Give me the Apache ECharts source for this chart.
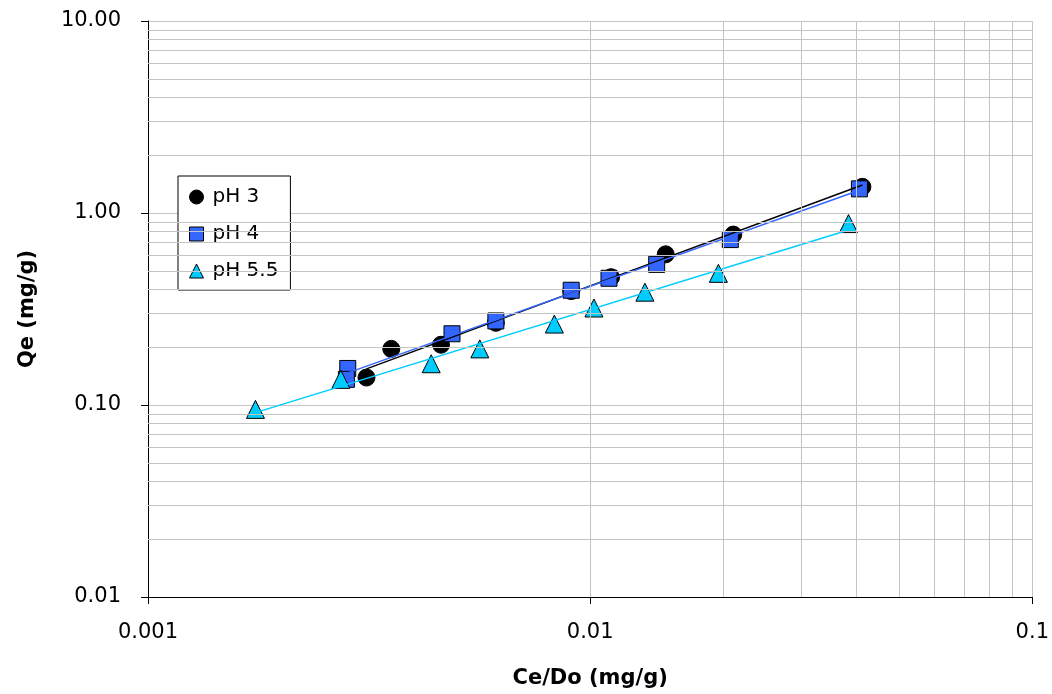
<!DOCTYPE html>
<html><head><meta charset="utf-8">
<script src="https://cdn.jsdelivr.net/npm/echarts@6/dist/echarts.min.js"></script>
<style>html,body{margin:0;padding:0;background:#fff}#c{width:1052px;height:694px}</style>
</head><body><div id="c"></div>
<script>
// Data (Ce/Do, Qe)
const seriesNames = ['pH 3', 'pH 4', 'pH 5.5'];
const ph3X = [0.00312, 0.00355, 0.00460, 0.00612, 0.00906, 0.01115, 0.01482, 0.02107, 0.04128];
const ph3Y = [0.139, 0.196, 0.206, 0.268, 0.392, 0.463, 0.609, 0.772, 1.368];
const ph4X = [0.00283, 0.00281, 0.00487, 0.00612, 0.00906, 0.01103, 0.01414, 0.02075, 0.04064];
const ph4Y = [0.155, 0.136, 0.235, 0.274, 0.396, 0.457, 0.540, 0.727, 1.336];
const ph55X = [0.00175, 0.00273, 0.00437, 0.00563, 0.00830, 0.01020, 0.01330, 0.01950, 0.03840];
const ph55Y = [0.0949, 0.136, 0.164, 0.196, 0.264, 0.320, 0.387, 0.485, 0.881];
const xTickLabels = ['0.001', '0.01', '0.1'];
const yTickLabels = ['0.01', '0.10', '1.00', '10.00'];

function pairs(xs, ys) { return xs.map((x, i) => [x, ys[i]]); }
// power-law trendline (least squares in log-log space), drawn between min and max x
function powerFit(xs, ys) {
  const lx = xs.map(Math.log10), ly = ys.map(Math.log10);
  const n = lx.length;
  const mx = lx.reduce((a, b) => a + b, 0) / n, my = ly.reduce((a, b) => a + b, 0) / n;
  let sxy = 0, sxx = 0;
  for (let i = 0; i < n; i++) { sxy += (lx[i] - mx) * (ly[i] - my); sxx += (lx[i] - mx) ** 2; }
  const b = sxy / sxx, a = my - b * mx;
  const x0 = Math.min(...xs), x1 = Math.max(...xs);
  return [[x0, Math.pow(10, a + b * Math.log10(x0))], [x1, Math.pow(10, a + b * Math.log10(x1))]];
}

// minor grid positions (2..9 within each decade)
const minorX = [], minorY = [];
[0.001, 0.01].forEach(d => { for (let k = 2; k <= 9; k++) minorX.push(+(d * k).toPrecision(3)); });
[0.01, 0.1, 1].forEach(d => { for (let k = 2; k <= 9; k++) minorY.push(+(d * k).toPrecision(3)); });

const FONT = 'DejaVu Sans, Liberation Sans, Arial, sans-serif';
const gridColor = '#c4c4c4';
const colors = ['#000000', '#3366ff', '#00ccff'];
const symbols = ['circle', 'rect', 'triangle'];
const sizes = [17, 16, 18];
const datasets = [[ph3X, ph3Y], [ph4X, ph4Y], [ph55X, ph55Y]];

const series = [];
series.push({
  type: 'line', data: [], silent: true, z: 0,
  markLine: {
    silent: true, symbol: 'none', animation: false,
    label: { show: false },
    lineStyle: { color: gridColor, type: 'solid', width: 1 },
    data: minorX.map(v => ({ xAxis: v })).concat(minorY.map(v => ({ yAxis: v })))
  }
});
datasets.forEach((d, i) => {
  series.push({
    name: seriesNames[i], type: 'line', data: powerFit(d[0], d[1]),
    symbol: 'none', lineStyle: { color: colors[i], width: 1.5 }, z: 4, silent: true,
    legendHoverLink: false
  });
});
datasets.forEach((d, i) => {
  series.push({
    name: seriesNames[i], type: 'scatter', data: pairs(d[0], d[1]),
    symbol: symbols[i], symbolSize: sizes[i], z: 3,
    itemStyle: { color: colors[i], borderColor: '#000', borderWidth: 1, opacity: 1 }
  });
});

const chart = echarts.init(document.getElementById('c'), null, { renderer: 'canvas' });
chart.setOption({
  animation: false,
  textStyle: { fontFamily: FONT },
  grid: { left: 148, right: 14, top: 21, bottom: 93, containLabel: false },
  legend: {
    data: seriesNames.map((n, i) => ({ name: n, icon: symbols[i],
      itemStyle: { color: colors[i], borderColor: '#000', borderWidth: 1 } })),
    orient: 'vertical', left: 178, top: 176, width: 113,
    backgroundColor: '#fff', borderColor: '#000', borderWidth: 1,
    padding: [11, 12, 9, 11], itemGap: 17, itemWidth: 14, itemHeight: 14,
    textStyle: { fontSize: 20, color: '#000', fontFamily: FONT, padding: [0, 0, 0, 4] }
  },
  xAxis: {
    type: 'log', logBase: 10, min: 0.001, max: 0.1,
    name: 'Ce/Do (mg/g)', nameLocation: 'middle', nameGap: 71,
    nameTextStyle: { fontSize: 21, fontWeight: 'bold', color: '#000', fontFamily: FONT },
    axisLine: { show: true, onZero: false, lineStyle: { color: '#000', width: 1 } },
    axisTick: { show: true, inside: false, length: 7, lineStyle: { color: '#000' } },
    axisLabel: { fontSize: 21, color: '#000', margin: 25, fontFamily: FONT, formatter: (v, i) => xTickLabels[i] },
    splitLine: { show: true, lineStyle: { color: gridColor, width: 1 } },
    minorTick: { show: false }, minorSplitLine: { show: false }
  },
  yAxis: {
    type: 'log', logBase: 10, min: 0.01, max: 10,
    name: 'Qe (mg/g)', nameLocation: 'middle', nameGap: 110, nameRotate: 90,
    nameTextStyle: { fontSize: 21, fontWeight: 'bold', color: '#000', fontFamily: FONT },
    axisLine: { show: true, onZero: false, lineStyle: { color: '#000', width: 1 } },
    axisTick: { show: true, inside: false, length: 7, lineStyle: { color: '#000' } },
    axisLabel: { fontSize: 21, color: '#000', margin: 27, fontFamily: FONT, formatter: (v, i) => yTickLabels[i] },
    splitLine: { show: true, lineStyle: { color: gridColor, width: 1 } },
    minorTick: { show: false }, minorSplitLine: { show: false }
  },
  series: series
});
</script></body></html>
